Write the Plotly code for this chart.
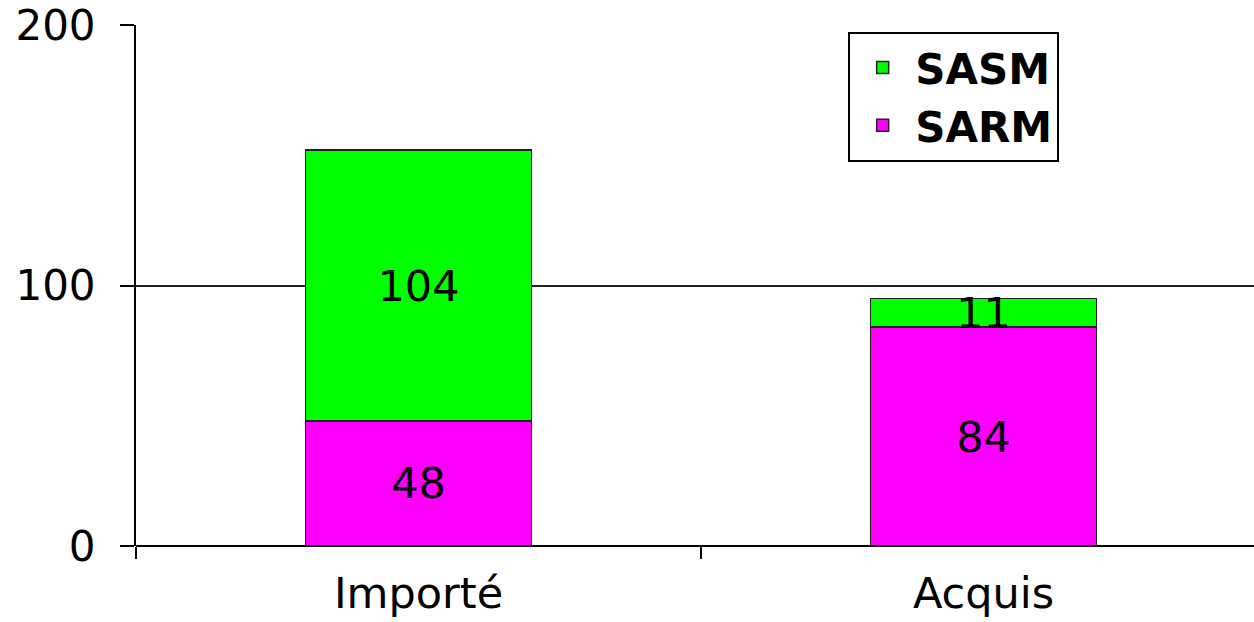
import plotly.graph_objects as go

categories = ["Importé", "Acquis"]
sarm = [48, 84]
sasm = [104, 11]
y_ticks = [0, 100, 200]

FONT = "DejaVu Sans, Liberation Sans, Arial, sans-serif"

fig = go.Figure()
fig.add_trace(go.Bar(
    x=categories, y=sarm, name="SARM",
    marker=dict(color="#FF00FF", line=dict(color="#222", width=1.5)),
    text=[str(v) for v in sarm], textposition="inside", insidetextanchor="middle",
    textangle=0,
    textfont=dict(size=43, color="black", family=FONT),
    width=0.4, hoverinfo="skip",
))
fig.add_trace(go.Bar(
    x=categories, y=sasm, name="SASM",
    marker=dict(color="#00FF00", line=dict(color="#222", width=1.5)),
    text=[str(v) for v in sasm], textposition="inside", insidetextanchor="middle",
    textangle=0,
    textfont=dict(size=43, color="black", family=FONT),
    width=0.4, hoverinfo="skip",
))

fig.update_layout(
    barmode="stack",
    width=1254, height=622,
    margin=dict(l=136, r=0, t=25, b=76),
    paper_bgcolor="white", plot_bgcolor="white",
    font=dict(family=FONT, size=42, color="black"),
    uniformtext=dict(minsize=43, mode="show"),
    showlegend=True,
    legend=dict(
        x=0.637, y=0.987, xanchor="left", yanchor="top",
        traceorder="reversed",
        bordercolor="black", borderwidth=2, bgcolor="white",
        font=dict(size=42, family=FONT, color="black", weight="bold"),
        itemwidth=55,
    ),
    xaxis=dict(
        type="category",
        range=[-0.5, -0.5 + 1118 / 565],
        automargin=False,
        showline=False,
        showgrid=False,
        ticks="outside", ticklen=12, tickwidth=2, tickcolor="black",
        tickson="boundaries",
        ticklabelstandoff=18,
        tickfont=dict(size=43, family=FONT, color="black"),
        zeroline=False,
    ),
    yaxis=dict(
        range=[0, 200],
        tickvals=y_ticks,
        automargin=False,
        showline=True, linecolor="black", linewidth=2,
        showgrid=True, gridcolor="#222", gridwidth=2,
        ticks="outside", ticklen=14, tickwidth=2, tickcolor="black",
        ticklabelstandoff=16,
        tickfont=dict(size=42, family=FONT, color="black"),
        zeroline=True, zerolinecolor="black", zerolinewidth=2,
    ),
)

fig.write_html("out.html")
